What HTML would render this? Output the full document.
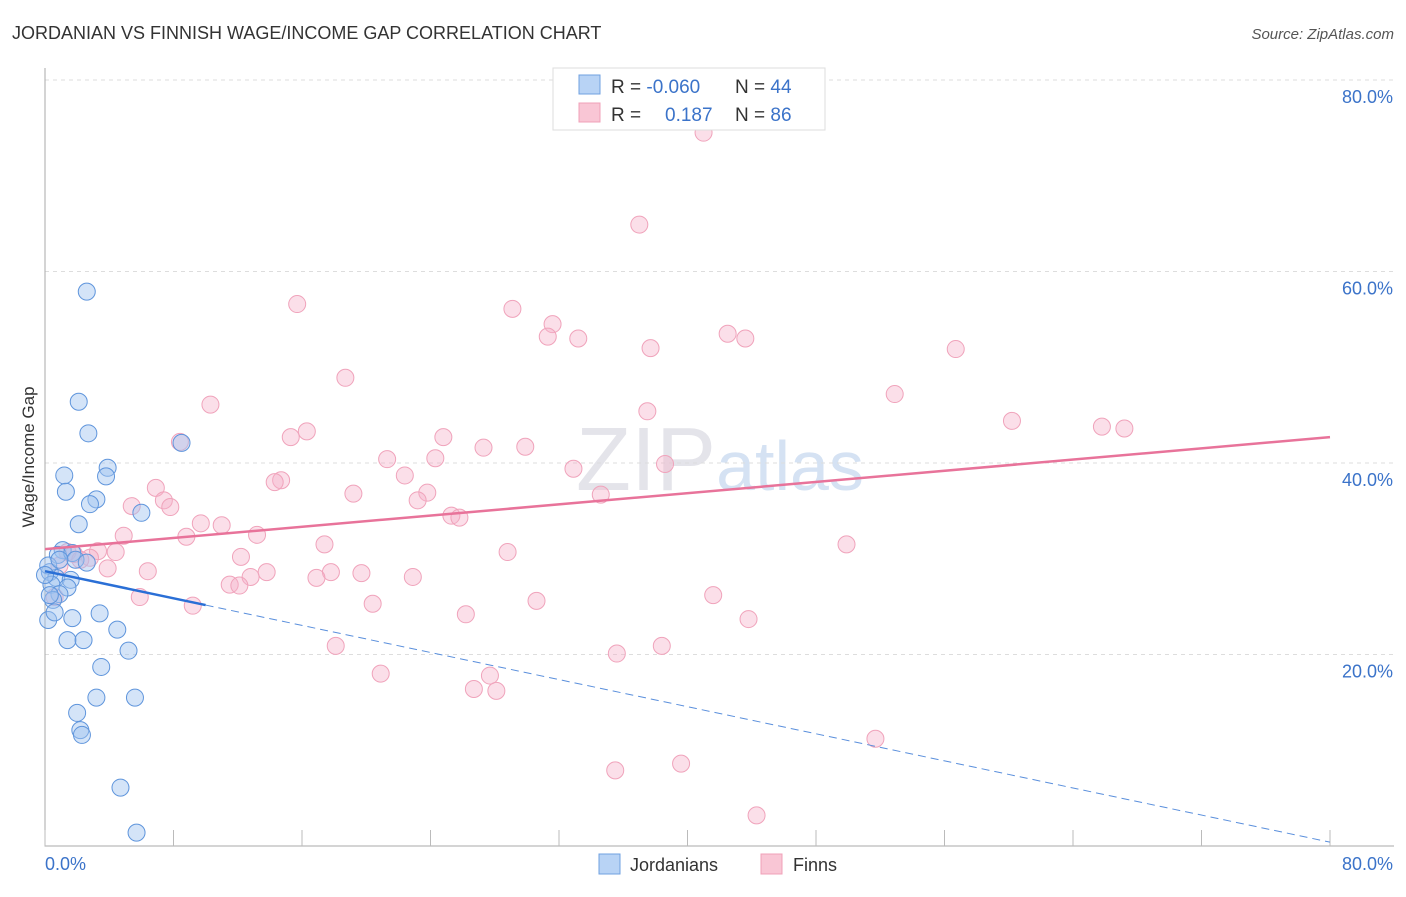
<!DOCTYPE html>
<html><head><meta charset="utf-8"><style>
body{margin:0;background:#fff;font-family:"Liberation Sans",sans-serif}
svg text{font-family:"Liberation Sans",sans-serif}
</style></head><body>
<svg id="chart" width="1406" height="892" xmlns="http://www.w3.org/2000/svg">
<text x="12" y="39" font-size="18" fill="#333">JORDANIAN VS FINNISH WAGE/INCOME GAP CORRELATION CHART</text>
<text x="1394" y="39" font-size="15" fill="#555" text-anchor="end" font-style="italic">Source: ZipAtlas.com</text>
<text x="720" y="490" font-size="90" fill="#e4e4ea" text-anchor="middle" font-family="Liberation Serif">ZIP<tspan fill="#d5e2f3" font-family="Liberation Sans" font-size="70">atlas</tspan></text>
<g id="grid"></g><g id="axes"></g><g id="marks"></g><g id="lines"></g>
<text transform="translate(34,457) rotate(-90)" font-size="17" fill="#333" text-anchor="middle">Wage/Income Gap</text>
<g>
<rect x="553" y="68" width="272" height="62" fill="#fff" stroke="#ddd"/>
<rect x="579" y="75" width="21" height="19" fill="#b8d3f5" stroke="#6fa0e0"/>
<rect x="579" y="103" width="21" height="19" fill="#f9c6d5" stroke="#f0a0b8"/>
<text x="611" y="93" font-size="19" fill="#333">R = <tspan fill="#3b73c9">-0.060</tspan></text>
<text x="735" y="93" font-size="19" fill="#333">N = <tspan fill="#3b73c9">44</tspan></text>
<text x="611" y="121" font-size="19" fill="#333">R = <tspan fill="#3b73c9" x="665">0.187</tspan></text>
<text x="735" y="121" font-size="19" fill="#333">N = <tspan fill="#3b73c9">86</tspan></text>
</g>
<g>
<rect x="599" y="854" width="21" height="20" fill="#b8d3f5" stroke="#6fa0e0"/>
<text x="630" y="871" font-size="18" fill="#333">Jordanians</text>
<rect x="761" y="854" width="21" height="20" fill="#f9c6d5" stroke="#f0a0b8"/>
<text x="793" y="871" font-size="18" fill="#333">Finns</text>
</g>
</svg>
<script>
const yTicks=[20,40,60,80];
const yTickLabels=["20.0%","40.0%","60.0%","80.0%"];
const xTicks=[0,8,16,24,32,40,48,56,64,72,80];
const blueX=[2.6,2.1,2.7,1.2,1.3,3.9,3.8,3.2,2.8,2.1,6.0,1.1,0.8,1.7,1.9,2.6,0.3,0.7,1.6,0.4,1.4,0.9,0.5,0.2,0.6,1.7,3.4,4.5,1.4,2.4,5.2,3.5,3.2,5.6,2.0,2.2,2.3,4.7,5.7,8.5,0.2,0.9,0.0,0.3];
const blueY=[57.9,46.4,43.1,38.7,37.0,39.5,38.6,36.2,35.7,33.6,34.8,30.9,30.4,30.6,29.9,29.6,28.6,28.0,27.8,27.3,27.0,26.3,25.7,23.6,24.4,23.8,24.3,22.6,21.5,21.5,20.4,18.7,15.5,15.5,13.9,12.1,11.6,6.1,1.4,42.1,29.3,29.9,28.3,26.2];
const pinkX=[41.0,37.0,15.7,29.1,31.6,31.3,33.2,37.7,42.5,43.6,56.7,18.7,10.3,52.9,37.5,60.2,65.8,67.2,16.3,15.3,24.8,27.3,29.9,8.4,21.3,24.3,38.6,32.9,14.7,14.3,22.4,6.9,19.2,23.8,23.2,34.6,7.4,7.8,5.4,25.3,25.8,9.7,11.0,8.8,13.2,4.9,17.4,49.9,28.8,1.4,3.3,4.4,2.8,1.8,12.2,3.9,6.4,13.8,17.8,19.7,16.9,22.9,12.8,11.5,12.1,5.9,9.2,30.6,20.4,41.6,26.2,43.8,18.1,35.6,38.4,20.9,27.7,26.7,28.1,51.7,35.5,39.6,44.3,0.6,2.2,0.9];
const pinkY=[74.5,64.9,56.6,56.1,54.5,53.2,53.0,52.0,53.5,53.0,51.9,48.9,46.1,47.2,45.4,44.4,43.8,43.6,43.3,42.7,42.7,41.6,41.7,42.2,40.4,40.5,39.9,39.4,38.2,38.0,38.7,37.4,36.8,36.9,36.1,36.7,36.1,35.4,35.5,34.5,34.3,33.7,33.5,32.3,32.5,32.4,31.5,31.5,30.7,30.7,30.8,30.7,30.1,30.5,30.2,29.0,28.7,28.6,28.6,28.5,28.0,28.1,28.1,27.3,27.2,26.0,25.1,25.6,25.3,26.2,24.2,23.7,20.9,20.1,20.9,18.0,17.8,16.4,16.2,11.2,7.9,8.6,3.2,26.0,29.9,29.3];
const pinkTrend=[31.0,42.7];
const blueTrend=[28.7,0.4];
const blueSolidEnd=10;
const X0=45,X1=1330,Y0=846,Y1=80;
const sx=v=>X0+(X1-X0)*v/80, sy=v=>Y0-(Y0-Y1)*v/80;
const NS="http://www.w3.org/2000/svg";
function mk(parent,tag,attrs){const e=document.createElementNS(NS,tag);for(const k in attrs)e.setAttribute(k,attrs[k]);document.getElementById(parent).appendChild(e);return e;}
yTicks.forEach((t,i)=>{
 const g=mk('grid','line',{x1:X0,x2:1394,y1:sy(t),y2:sy(t),stroke:'#ddd','stroke-dasharray':'4,4'});
 
 
 const l=mk('axes','text',{x:1393,y:sy(t)+23,'font-size':18,fill:'#3b73c9','text-anchor':'end'});
 l.textContent=yTickLabels[i];
 
 
});
const ax=mk('axes','path',{d:`M${X0},68V${Y0}H1394`,stroke:'#aaa',fill:'none'});


xTicks.forEach(t=>{
 const e=mk('axes','line',{x1:sx(t),x2:sx(t),y1:Y0-16,y2:Y0,stroke:'#bbb'});
 
 
});
const xl0=mk('axes','text',{x:45,y:870,'font-size':18,fill:'#3b73c9'});xl0.textContent='0.0%';


const xl1=mk('axes','text',{x:1393,y:870,'font-size':18,fill:'#3b73c9','text-anchor':'end'});xl1.textContent='80.0%';


pinkX.forEach((x,i)=>{
 const c=mk('marks','circle',{cx:sx(x),cy:sy(pinkY[i]),r:8.5,fill:'rgba(246,176,200,0.4)',stroke:'#f0a3bb','stroke-width':1});
 
 
});
blueX.forEach((x,i)=>{
 const c=mk('marks','circle',{cx:sx(x),cy:sy(blueY[i]),r:8.5,fill:'rgba(160,196,240,0.45)',stroke:'#5f95dc','stroke-width':1});
 
 
});
const pl=mk('lines','line',{x1:sx(0),y1:sy(pinkTrend[0]),x2:sx(80),y2:sy(pinkTrend[1]),stroke:'#e8739a','stroke-width':2.5});


const by=x=>blueTrend[0]+(blueTrend[1]-blueTrend[0])*x/80;
const bl=mk('lines','line',{x1:sx(0),y1:sy(by(0)),x2:sx(blueSolidEnd),y2:sy(by(blueSolidEnd)),stroke:'#2a6fd6','stroke-width':2.5});


const bd=mk('lines','line',{x1:sx(blueSolidEnd),y1:sy(by(blueSolidEnd)),x2:sx(80),y2:sy(by(80)),stroke:'#5a8fdc','stroke-width':1,'stroke-dasharray':'8,5'});


</script>
</body></html>
